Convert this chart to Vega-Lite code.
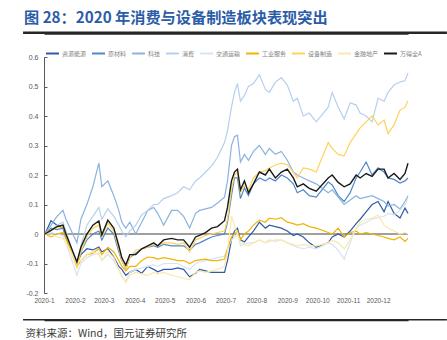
{
"$schema":"https://vega.github.io/schema/vega-lite/v6.json",
"width":364,"height":236,
"autosize":{"type":"none"},
"padding":{"left":44,"top":57,"right":39,"bottom":47},
"background":"#ffffff",
"config":{"view":{"stroke":null},"font":"Noto Sans CJK SC"},
"title":{"text":"图 28：2020 年消费与设备制造板块表现突出","anchor":"start","frame":"group","dx":-20,"offset":5,"fontSize":15.2,"fontWeight":"bold","color":"#2b5ca8","font":"Noto Sans CJK SC"},
"resolve":{"axis":{"x":"independent","y":"independent"}},
"datasets":{
"R":[{"d":"2020-01-02","v":0},{"d":"2020-01-08","v":0.045},{"d":"2020-01-14","v":0.03},{"d":"2020-01-20","v":0.02},{"d":"2020-01-23","v":-0.01},{"d":"2020-02-03","v":-0.1},{"d":"2020-02-07","v":-0.07},{"d":"2020-02-13","v":-0.05},{"d":"2020-02-19","v":-0.054},{"d":"2020-02-25","v":-0.044},{"d":"2020-02-28","v":-0.06},{"d":"2020-03-05","v":-0.05},{"d":"2020-03-11","v":-0.078},{"d":"2020-03-16","v":-0.11},{"d":"2020-03-19","v":-0.12},{"d":"2020-03-23","v":-0.14},{"d":"2020-03-27","v":-0.13},{"d":"2020-04-02","v":-0.12},{"d":"2020-04-08","v":-0.133},{"d":"2020-04-14","v":-0.11},{"d":"2020-04-20","v":-0.12},{"d":"2020-04-24","v":-0.128},{"d":"2020-04-30","v":-0.12},{"d":"2020-05-08","v":-0.12},{"d":"2020-05-14","v":-0.115},{"d":"2020-05-20","v":-0.12},{"d":"2020-05-26","v":-0.145},{"d":"2020-06-01","v":-0.133},{"d":"2020-06-05","v":-0.12},{"d":"2020-06-11","v":-0.125},{"d":"2020-06-17","v":-0.13},{"d":"2020-06-23","v":-0.13},{"d":"2020-06-30","v":-0.13},{"d":"2020-07-03","v":-0.09},{"d":"2020-07-07","v":-0.02},{"d":"2020-07-10","v":0.01},{"d":"2020-07-13","v":0.02},{"d":"2020-07-16","v":-0.02},{"d":"2020-07-20","v":-0.027},{"d":"2020-07-24","v":-0.01},{"d":"2020-07-29","v":0.01},{"d":"2020-08-04","v":0.04},{"d":"2020-08-10","v":0.02},{"d":"2020-08-14","v":0.03},{"d":"2020-08-20","v":0.025},{"d":"2020-08-26","v":0.02},{"d":"2020-09-01","v":0.01},{"d":"2020-09-07","v":-0.005},{"d":"2020-09-11","v":0},{"d":"2020-09-17","v":-0.01},{"d":"2020-09-23","v":-0.03},{"d":"2020-09-30","v":-0.045},{"d":"2020-10-12","v":-0.03},{"d":"2020-10-16","v":-0.01},{"d":"2020-10-22","v":0},{"d":"2020-10-28","v":-0.01},{"d":"2020-11-03","v":0.01},{"d":"2020-11-09","v":0.035},{"d":"2020-11-13","v":0.05},{"d":"2020-11-19","v":0.075},{"d":"2020-11-25","v":0.1},{"d":"2020-12-01","v":0.11},{"d":"2020-12-07","v":0.075},{"d":"2020-12-11","v":0.11},{"d":"2020-12-17","v":0.07},{"d":"2020-12-23","v":0.054},{"d":"2020-12-28","v":0.088},{"d":"2020-12-31","v":0.07}],
"M":[{"d":"2020-01-02","v":0},{"d":"2020-01-08","v":0.02},{"d":"2020-01-14","v":0.015},{"d":"2020-01-20","v":0.02},{"d":"2020-01-23","v":-0.01},{"d":"2020-02-03","v":-0.1},{"d":"2020-02-07","v":-0.06},{"d":"2020-02-13","v":-0.02},{"d":"2020-02-19","v":0},{"d":"2020-02-25","v":0.01},{"d":"2020-02-28","v":-0.02},{"d":"2020-03-05","v":0.02},{"d":"2020-03-11","v":0},{"d":"2020-03-16","v":-0.06},{"d":"2020-03-19","v":-0.09},{"d":"2020-03-23","v":-0.12},{"d":"2020-03-27","v":-0.08},{"d":"2020-04-02","v":-0.065},{"d":"2020-04-08","v":-0.05},{"d":"2020-04-14","v":-0.045},{"d":"2020-04-20","v":-0.04},{"d":"2020-04-24","v":-0.045},{"d":"2020-04-30","v":-0.035},{"d":"2020-05-08","v":-0.04},{"d":"2020-05-14","v":-0.04},{"d":"2020-05-20","v":-0.04},{"d":"2020-05-26","v":-0.055},{"d":"2020-06-01","v":-0.035},{"d":"2020-06-05","v":-0.03},{"d":"2020-06-11","v":-0.02},{"d":"2020-06-17","v":-0.01},{"d":"2020-06-23","v":-0.005},{"d":"2020-06-30","v":0},{"d":"2020-07-03","v":0.04},{"d":"2020-07-07","v":0.13},{"d":"2020-07-10","v":0.19},{"d":"2020-07-13","v":0.19},{"d":"2020-07-16","v":0.12},{"d":"2020-07-20","v":0.156},{"d":"2020-07-24","v":0.13},{"d":"2020-07-29","v":0.17},{"d":"2020-08-04","v":0.19},{"d":"2020-08-10","v":0.18},{"d":"2020-08-14","v":0.19},{"d":"2020-08-20","v":0.18},{"d":"2020-08-26","v":0.2},{"d":"2020-09-01","v":0.19},{"d":"2020-09-07","v":0.17},{"d":"2020-09-11","v":0.14},{"d":"2020-09-17","v":0.15},{"d":"2020-09-23","v":0.13},{"d":"2020-09-30","v":0.125},{"d":"2020-10-12","v":0.176},{"d":"2020-10-16","v":0.166},{"d":"2020-10-22","v":0.13},{"d":"2020-10-28","v":0.11},{"d":"2020-11-03","v":0.14},{"d":"2020-11-09","v":0.19},{"d":"2020-11-13","v":0.21},{"d":"2020-11-19","v":0.244},{"d":"2020-11-25","v":0.2},{"d":"2020-12-01","v":0.224},{"d":"2020-12-07","v":0.21},{"d":"2020-12-11","v":0.19},{"d":"2020-12-17","v":0.185},{"d":"2020-12-23","v":0.173},{"d":"2020-12-28","v":0.18},{"d":"2020-12-31","v":0.19}],
"T":[{"d":"2020-01-02","v":0},{"d":"2020-01-08","v":0.03},{"d":"2020-01-14","v":0.06},{"d":"2020-01-20","v":0.08},{"d":"2020-01-23","v":0.05},{"d":"2020-02-03","v":-0.03},{"d":"2020-02-07","v":0.05},{"d":"2020-02-13","v":0.1},{"d":"2020-02-19","v":0.16},{"d":"2020-02-25","v":0.24},{"d":"2020-02-28","v":0.16},{"d":"2020-03-05","v":0.18},{"d":"2020-03-11","v":0.13},{"d":"2020-03-16","v":0.08},{"d":"2020-03-19","v":0.04},{"d":"2020-03-23","v":0.02},{"d":"2020-03-27","v":0.04},{"d":"2020-04-02","v":0},{"d":"2020-04-08","v":0.04},{"d":"2020-04-14","v":0.08},{"d":"2020-04-20","v":0.09},{"d":"2020-04-24","v":0.07},{"d":"2020-04-30","v":0.03},{"d":"2020-05-08","v":0.08},{"d":"2020-05-14","v":0.08},{"d":"2020-05-20","v":0.06},{"d":"2020-05-26","v":0.02},{"d":"2020-06-01","v":0.07},{"d":"2020-06-05","v":0.08},{"d":"2020-06-11","v":0.085},{"d":"2020-06-17","v":0.09},{"d":"2020-06-23","v":0.105},{"d":"2020-06-30","v":0.125},{"d":"2020-07-03","v":0.18},{"d":"2020-07-07","v":0.3},{"d":"2020-07-10","v":0.33},{"d":"2020-07-13","v":0.335},{"d":"2020-07-16","v":0.244},{"d":"2020-07-20","v":0.27},{"d":"2020-07-24","v":0.25},{"d":"2020-07-29","v":0.28},{"d":"2020-08-04","v":0.3},{"d":"2020-08-10","v":0.27},{"d":"2020-08-14","v":0.29},{"d":"2020-08-20","v":0.27},{"d":"2020-08-26","v":0.28},{"d":"2020-09-01","v":0.25},{"d":"2020-09-07","v":0.21},{"d":"2020-09-11","v":0.2},{"d":"2020-09-17","v":0.19},{"d":"2020-09-23","v":0.18},{"d":"2020-09-30","v":0.17},{"d":"2020-10-12","v":0.14},{"d":"2020-10-16","v":0.15},{"d":"2020-10-22","v":0.125},{"d":"2020-10-28","v":0.1},{"d":"2020-11-03","v":0.115},{"d":"2020-11-09","v":0.13},{"d":"2020-11-13","v":0.12},{"d":"2020-11-19","v":0.125},{"d":"2020-11-25","v":0.13},{"d":"2020-12-01","v":0.12},{"d":"2020-12-07","v":0.11},{"d":"2020-12-11","v":0.095},{"d":"2020-12-17","v":0.1},{"d":"2020-12-23","v":0.085},{"d":"2020-12-28","v":0.11},{"d":"2020-12-31","v":0.13}],
"C":[{"d":"2020-01-02","v":0},{"d":"2020-01-08","v":0.01},{"d":"2020-01-14","v":0.03},{"d":"2020-01-20","v":0.04},{"d":"2020-01-23","v":0.01},{"d":"2020-02-03","v":-0.11},{"d":"2020-02-07","v":-0.04},{"d":"2020-02-13","v":0.03},{"d":"2020-02-19","v":0.06},{"d":"2020-02-25","v":0.09},{"d":"2020-02-28","v":0.05},{"d":"2020-03-05","v":0.085},{"d":"2020-03-11","v":0.06},{"d":"2020-03-16","v":0.03},{"d":"2020-03-19","v":0.01},{"d":"2020-03-23","v":-0.01},{"d":"2020-03-27","v":0.01},{"d":"2020-04-02","v":0.03},{"d":"2020-04-08","v":0.065},{"d":"2020-04-14","v":0.08},{"d":"2020-04-20","v":0.1},{"d":"2020-04-24","v":0.1},{"d":"2020-04-30","v":0.12},{"d":"2020-05-08","v":0.13},{"d":"2020-05-14","v":0.14},{"d":"2020-05-20","v":0.16},{"d":"2020-05-26","v":0.15},{"d":"2020-06-01","v":0.18},{"d":"2020-06-05","v":0.19},{"d":"2020-06-11","v":0.21},{"d":"2020-06-17","v":0.23},{"d":"2020-06-23","v":0.26},{"d":"2020-06-30","v":0.31},{"d":"2020-07-03","v":0.35},{"d":"2020-07-07","v":0.43},{"d":"2020-07-10","v":0.48},{"d":"2020-07-13","v":0.51},{"d":"2020-07-16","v":0.45},{"d":"2020-07-20","v":0.47},{"d":"2020-07-24","v":0.5},{"d":"2020-07-29","v":0.51},{"d":"2020-08-04","v":0.54},{"d":"2020-08-10","v":0.49},{"d":"2020-08-14","v":0.48},{"d":"2020-08-20","v":0.515},{"d":"2020-08-26","v":0.53},{"d":"2020-09-01","v":0.505},{"d":"2020-09-07","v":0.45},{"d":"2020-09-11","v":0.46},{"d":"2020-09-17","v":0.4},{"d":"2020-09-23","v":0.41},{"d":"2020-09-30","v":0.38},{"d":"2020-10-12","v":0.43},{"d":"2020-10-16","v":0.48},{"d":"2020-10-22","v":0.43},{"d":"2020-10-28","v":0.39},{"d":"2020-11-03","v":0.445},{"d":"2020-11-09","v":0.437},{"d":"2020-11-13","v":0.41},{"d":"2020-11-19","v":0.4},{"d":"2020-11-25","v":0.38},{"d":"2020-12-01","v":0.46},{"d":"2020-12-07","v":0.45},{"d":"2020-12-11","v":0.48},{"d":"2020-12-17","v":0.505},{"d":"2020-12-23","v":0.515},{"d":"2020-12-28","v":0.52},{"d":"2020-12-31","v":0.546}],
"X":[{"d":"2020-01-02","v":0},{"d":"2020-01-08","v":0.005},{"d":"2020-01-14","v":0},{"d":"2020-01-20","v":-0.005},{"d":"2020-01-23","v":-0.03},{"d":"2020-02-03","v":-0.14},{"d":"2020-02-07","v":-0.1},{"d":"2020-02-13","v":-0.08},{"d":"2020-02-19","v":-0.07},{"d":"2020-02-25","v":-0.065},{"d":"2020-02-28","v":-0.09},{"d":"2020-03-05","v":-0.07},{"d":"2020-03-11","v":-0.09},{"d":"2020-03-16","v":-0.12},{"d":"2020-03-19","v":-0.145},{"d":"2020-03-23","v":-0.16},{"d":"2020-03-27","v":-0.13},{"d":"2020-04-02","v":-0.12},{"d":"2020-04-08","v":-0.115},{"d":"2020-04-14","v":-0.11},{"d":"2020-04-20","v":-0.105},{"d":"2020-04-24","v":-0.11},{"d":"2020-04-30","v":-0.1},{"d":"2020-05-08","v":-0.1},{"d":"2020-05-14","v":-0.1},{"d":"2020-05-20","v":-0.11},{"d":"2020-05-26","v":-0.12},{"d":"2020-06-01","v":-0.1},{"d":"2020-06-05","v":-0.095},{"d":"2020-06-11","v":-0.09},{"d":"2020-06-17","v":-0.085},{"d":"2020-06-23","v":-0.08},{"d":"2020-06-30","v":-0.075},{"d":"2020-07-03","v":-0.05},{"d":"2020-07-07","v":-0.02},{"d":"2020-07-10","v":-0.01},{"d":"2020-07-13","v":0},{"d":"2020-07-16","v":-0.04},{"d":"2020-07-20","v":-0.035},{"d":"2020-07-24","v":-0.03},{"d":"2020-07-29","v":-0.03},{"d":"2020-08-04","v":-0.02},{"d":"2020-08-10","v":-0.03},{"d":"2020-08-14","v":-0.02},{"d":"2020-08-20","v":-0.025},{"d":"2020-08-26","v":-0.02},{"d":"2020-09-01","v":-0.03},{"d":"2020-09-07","v":-0.04},{"d":"2020-09-11","v":-0.045},{"d":"2020-09-17","v":-0.05},{"d":"2020-09-23","v":-0.045},{"d":"2020-09-30","v":-0.05},{"d":"2020-10-12","v":-0.03},{"d":"2020-10-16","v":-0.035},{"d":"2020-10-22","v":-0.055},{"d":"2020-10-28","v":-0.085},{"d":"2020-11-03","v":-0.03},{"d":"2020-11-09","v":0.02},{"d":"2020-11-13","v":0.03},{"d":"2020-11-19","v":0.04},{"d":"2020-11-25","v":0.05},{"d":"2020-12-01","v":0.055},{"d":"2020-12-07","v":0.06},{"d":"2020-12-11","v":0.07},{"d":"2020-12-17","v":0.065},{"d":"2020-12-23","v":0.08},{"d":"2020-12-28","v":0.1},{"d":"2020-12-31","v":0.12}],
"I":[{"d":"2020-01-02","v":0},{"d":"2020-01-08","v":-0.01},{"d":"2020-01-14","v":0},{"d":"2020-01-20","v":0.005},{"d":"2020-01-23","v":-0.015},{"d":"2020-02-03","v":-0.11},{"d":"2020-02-07","v":-0.09},{"d":"2020-02-13","v":-0.07},{"d":"2020-02-19","v":-0.065},{"d":"2020-02-25","v":-0.05},{"d":"2020-02-28","v":-0.07},{"d":"2020-03-05","v":-0.045},{"d":"2020-03-11","v":-0.06},{"d":"2020-03-16","v":-0.09},{"d":"2020-03-19","v":-0.11},{"d":"2020-03-23","v":-0.125},{"d":"2020-03-27","v":-0.11},{"d":"2020-04-02","v":-0.11},{"d":"2020-04-08","v":-0.09},{"d":"2020-04-14","v":-0.078},{"d":"2020-04-20","v":-0.08},{"d":"2020-04-24","v":-0.085},{"d":"2020-04-30","v":-0.08},{"d":"2020-05-08","v":-0.085},{"d":"2020-05-14","v":-0.09},{"d":"2020-05-20","v":-0.09},{"d":"2020-05-26","v":-0.1},{"d":"2020-06-01","v":-0.09},{"d":"2020-06-05","v":-0.088},{"d":"2020-06-11","v":-0.085},{"d":"2020-06-17","v":-0.09},{"d":"2020-06-23","v":-0.09},{"d":"2020-06-30","v":-0.085},{"d":"2020-07-03","v":-0.05},{"d":"2020-07-07","v":-0.01},{"d":"2020-07-10","v":0},{"d":"2020-07-13","v":0.01},{"d":"2020-07-16","v":-0.02},{"d":"2020-07-20","v":0},{"d":"2020-07-24","v":0.01},{"d":"2020-07-29","v":0.03},{"d":"2020-08-04","v":0.047},{"d":"2020-08-10","v":0.04},{"d":"2020-08-14","v":0.054},{"d":"2020-08-20","v":0.05},{"d":"2020-08-26","v":0.055},{"d":"2020-09-01","v":0.04},{"d":"2020-09-07","v":0.035},{"d":"2020-09-11","v":0.03},{"d":"2020-09-17","v":0.035},{"d":"2020-09-23","v":0.025},{"d":"2020-09-30","v":0.02},{"d":"2020-10-12","v":0.005},{"d":"2020-10-16","v":0},{"d":"2020-10-22","v":0.02},{"d":"2020-10-28","v":-0.01},{"d":"2020-11-03","v":0.005},{"d":"2020-11-09","v":0.01},{"d":"2020-11-13","v":0},{"d":"2020-11-19","v":0.005},{"d":"2020-11-25","v":0},{"d":"2020-12-01","v":-0.005},{"d":"2020-12-07","v":-0.01},{"d":"2020-12-11","v":-0.015},{"d":"2020-12-17","v":-0.02},{"d":"2020-12-23","v":-0.01},{"d":"2020-12-28","v":-0.025},{"d":"2020-12-31","v":-0.015}],
"E":[{"d":"2020-01-02","v":0},{"d":"2020-01-08","v":0.015},{"d":"2020-01-14","v":0.02},{"d":"2020-01-20","v":0.025},{"d":"2020-01-23","v":0},{"d":"2020-02-03","v":-0.115},{"d":"2020-02-07","v":-0.06},{"d":"2020-02-13","v":-0.01},{"d":"2020-02-19","v":0.02},{"d":"2020-02-25","v":0.03},{"d":"2020-02-28","v":-0.01},{"d":"2020-03-05","v":0.037},{"d":"2020-03-11","v":0.01},{"d":"2020-03-16","v":-0.05},{"d":"2020-03-19","v":-0.09},{"d":"2020-03-23","v":-0.12},{"d":"2020-03-27","v":-0.08},{"d":"2020-04-02","v":-0.055},{"d":"2020-04-08","v":-0.05},{"d":"2020-04-14","v":-0.045},{"d":"2020-04-20","v":-0.035},{"d":"2020-04-24","v":-0.04},{"d":"2020-04-30","v":-0.03},{"d":"2020-05-08","v":-0.03},{"d":"2020-05-14","v":-0.035},{"d":"2020-05-20","v":-0.03},{"d":"2020-05-26","v":-0.06},{"d":"2020-06-01","v":-0.02},{"d":"2020-06-05","v":-0.015},{"d":"2020-06-11","v":-0.005},{"d":"2020-06-17","v":0},{"d":"2020-06-23","v":0.005},{"d":"2020-06-30","v":0.01},{"d":"2020-07-03","v":0.05},{"d":"2020-07-07","v":0.15},{"d":"2020-07-10","v":0.2},{"d":"2020-07-13","v":0.21},{"d":"2020-07-16","v":0.14},{"d":"2020-07-20","v":0.165},{"d":"2020-07-24","v":0.15},{"d":"2020-07-29","v":0.19},{"d":"2020-08-04","v":0.21},{"d":"2020-08-10","v":0.215},{"d":"2020-08-14","v":0.224},{"d":"2020-08-20","v":0.234},{"d":"2020-08-26","v":0.24},{"d":"2020-09-01","v":0.235},{"d":"2020-09-07","v":0.21},{"d":"2020-09-11","v":0.19},{"d":"2020-09-17","v":0.224},{"d":"2020-09-23","v":0.22},{"d":"2020-09-30","v":0.21},{"d":"2020-10-12","v":0.31},{"d":"2020-10-16","v":0.29},{"d":"2020-10-22","v":0.27},{"d":"2020-10-28","v":0.265},{"d":"2020-11-03","v":0.31},{"d":"2020-11-09","v":0.34},{"d":"2020-11-13","v":0.36},{"d":"2020-11-19","v":0.38},{"d":"2020-11-25","v":0.4},{"d":"2020-12-01","v":0.37},{"d":"2020-12-07","v":0.386},{"d":"2020-12-11","v":0.34},{"d":"2020-12-17","v":0.37},{"d":"2020-12-23","v":0.42},{"d":"2020-12-28","v":0.43},{"d":"2020-12-31","v":0.452}],
"F":[{"d":"2020-01-02","v":0},{"d":"2020-01-08","v":0},{"d":"2020-01-14","v":-0.01},{"d":"2020-01-20","v":-0.015},{"d":"2020-01-23","v":-0.03},{"d":"2020-02-03","v":-0.1},{"d":"2020-02-07","v":-0.09},{"d":"2020-02-13","v":-0.07},{"d":"2020-02-19","v":-0.06},{"d":"2020-02-25","v":-0.07},{"d":"2020-02-28","v":-0.09},{"d":"2020-03-05","v":-0.06},{"d":"2020-03-11","v":-0.08},{"d":"2020-03-16","v":-0.12},{"d":"2020-03-19","v":-0.14},{"d":"2020-03-23","v":-0.165},{"d":"2020-03-27","v":-0.14},{"d":"2020-04-02","v":-0.13},{"d":"2020-04-08","v":-0.135},{"d":"2020-04-14","v":-0.14},{"d":"2020-04-20","v":-0.13},{"d":"2020-04-24","v":-0.135},{"d":"2020-04-30","v":-0.13},{"d":"2020-05-08","v":-0.14},{"d":"2020-05-14","v":-0.145},{"d":"2020-05-20","v":-0.15},{"d":"2020-05-26","v":-0.155},{"d":"2020-06-01","v":-0.13},{"d":"2020-06-05","v":-0.125},{"d":"2020-06-11","v":-0.13},{"d":"2020-06-17","v":-0.125},{"d":"2020-06-23","v":-0.12},{"d":"2020-06-30","v":-0.11},{"d":"2020-07-03","v":-0.06},{"d":"2020-07-07","v":0.06},{"d":"2020-07-10","v":0.03},{"d":"2020-07-13","v":0},{"d":"2020-07-16","v":-0.03},{"d":"2020-07-20","v":-0.035},{"d":"2020-07-24","v":-0.04},{"d":"2020-07-29","v":-0.03},{"d":"2020-08-04","v":-0.02},{"d":"2020-08-10","v":-0.03},{"d":"2020-08-14","v":-0.025},{"d":"2020-08-20","v":-0.02},{"d":"2020-08-26","v":-0.02},{"d":"2020-09-01","v":-0.03},{"d":"2020-09-07","v":-0.035},{"d":"2020-09-11","v":-0.04},{"d":"2020-09-17","v":-0.035},{"d":"2020-09-23","v":-0.04},{"d":"2020-09-30","v":-0.04},{"d":"2020-10-12","v":-0.03},{"d":"2020-10-16","v":-0.02},{"d":"2020-10-22","v":-0.03},{"d":"2020-10-28","v":-0.05},{"d":"2020-11-03","v":-0.02},{"d":"2020-11-09","v":0.02},{"d":"2020-11-13","v":0.04},{"d":"2020-11-19","v":0.05},{"d":"2020-11-25","v":0.054},{"d":"2020-12-01","v":0.064},{"d":"2020-12-07","v":0.03},{"d":"2020-12-11","v":0.02},{"d":"2020-12-17","v":0.01},{"d":"2020-12-23","v":0},{"d":"2020-12-28","v":0.005},{"d":"2020-12-31","v":0}],
"A":[{"d":"2020-01-02","v":0},{"d":"2020-01-08","v":0.012},{"d":"2020-01-14","v":0.025},{"d":"2020-01-20","v":0.03},{"d":"2020-01-23","v":0},{"d":"2020-02-03","v":-0.095},{"d":"2020-02-07","v":-0.045},{"d":"2020-02-13","v":0},{"d":"2020-02-19","v":0.03},{"d":"2020-02-25","v":0.044},{"d":"2020-02-28","v":-0.003},{"d":"2020-03-05","v":0.047},{"d":"2020-03-11","v":0.02},{"d":"2020-03-16","v":-0.04},{"d":"2020-03-19","v":-0.08},{"d":"2020-03-23","v":-0.105},{"d":"2020-03-27","v":-0.07},{"d":"2020-04-02","v":-0.07},{"d":"2020-04-08","v":-0.05},{"d":"2020-04-14","v":-0.04},{"d":"2020-04-20","v":-0.03},{"d":"2020-04-24","v":-0.04},{"d":"2020-04-30","v":-0.02},{"d":"2020-05-08","v":-0.015},{"d":"2020-05-14","v":-0.02},{"d":"2020-05-20","v":-0.02},{"d":"2020-05-26","v":-0.045},{"d":"2020-06-01","v":-0.01},{"d":"2020-06-05","v":-0.005},{"d":"2020-06-11","v":0.005},{"d":"2020-06-17","v":0.02},{"d":"2020-06-23","v":0.025},{"d":"2020-06-30","v":0.045},{"d":"2020-07-03","v":0.09},{"d":"2020-07-07","v":0.18},{"d":"2020-07-10","v":0.21},{"d":"2020-07-13","v":0.22},{"d":"2020-07-16","v":0.15},{"d":"2020-07-20","v":0.18},{"d":"2020-07-24","v":0.14},{"d":"2020-07-29","v":0.17},{"d":"2020-08-04","v":0.21},{"d":"2020-08-10","v":0.2},{"d":"2020-08-14","v":0.22},{"d":"2020-08-20","v":0.19},{"d":"2020-08-26","v":0.21},{"d":"2020-09-01","v":0.22},{"d":"2020-09-07","v":0.19},{"d":"2020-09-11","v":0.16},{"d":"2020-09-17","v":0.17},{"d":"2020-09-23","v":0.155},{"d":"2020-09-30","v":0.145},{"d":"2020-10-12","v":0.19},{"d":"2020-10-16","v":0.2},{"d":"2020-10-22","v":0.175},{"d":"2020-10-28","v":0.16},{"d":"2020-11-03","v":0.17},{"d":"2020-11-09","v":0.2},{"d":"2020-11-13","v":0.19},{"d":"2020-11-19","v":0.205},{"d":"2020-11-25","v":0.195},{"d":"2020-12-01","v":0.22},{"d":"2020-12-07","v":0.22},{"d":"2020-12-11","v":0.19},{"d":"2020-12-17","v":0.205},{"d":"2020-12-23","v":0.185},{"d":"2020-12-28","v":0.205},{"d":"2020-12-31","v":0.24}]
},
"layer":[
 {"data":{"values":[{}]},"mark":{"type":"rule","stroke":"#404040","strokeWidth":1},
  "encoding":{"y":{"datum":0,"type":"quantitative","scale":{"domain":[-0.2,0.6],"nice":false,"zero":false},"axis":null}}},
 {"encoding":{
   "x":{"field":"d","type":"temporal","scale":{"type":"utc","domain":[1577836800000,1609372800000]},
    "axis":{"orient":"bottom","format":"%Y-%-m","tickCount":{"interval":"month","step":1},"domain":false,"ticks":false,"grid":false,"labelFontSize":6.5,"labelColor":"#595959","labelFont":"Liberation Sans","labelPadding":4,"labelFlush":false,"labelOverlap":false,
     "title":"资料来源：Wind，国元证券研究所","titleX":-19,"titleY":40,"titleAlign":"left","titleAnchor":"start","titleBaseline":"middle","titleFontSize":10.5,"titleFontWeight":"normal","titleColor":"#3a3a3a","titleFont":"Noto Sans CJK SC"}},
   "y":{"field":"v","type":"quantitative",
    "axis":{"orient":"left","values":[-0.2,-0.1,0,0.1,0.2,0.3,0.4,0.5,0.6],"labelExpr":"datum.value < 0 ? '-' + format(-datum.value, '.1~f') : format(datum.value, '.1~f')","labelOverlap":false,"title":null,"grid":false,"domainColor":"#595959","domainWidth":1,"tickColor":"#595959","tickSize":-3,"labelPadding":9,"labelFontSize":7,"labelColor":"#595959","labelFont":"Liberation Sans"}}
  },
  "layer":[
 {"data":{"name":"R"},"mark":{"type":"line","strokeWidth":1.2},"encoding":{"color":{"datum":"资源能源","type":"nominal",
   "scale":{"domain":["资源能源","原材料","科技","消费","交通运输","工业服务","设备制造","金融地产","万得全A"],"range":["#2f5ca8","#4f88cc","#8ab3e0","#b6d0ec","#d5e4f4","#f2b400","#fdd35a","#fde8a9","#1a1a1a"]},
   "legend":{"title":null,"orient":"none","legendX":1,"legendY":-11,"direction":"horizontal","columns":9,"gridAlign":"none","symbolType":"stroke","symbolSize":169,"symbolStrokeWidth":2,"labelFontSize":6,"labelColor":"#7f7f7f","labelFont":"Noto Sans CJK SC","labelOffset":2,"columnPadding":1,"padding":0}}}},
 {"data":{"name":"M"},"mark":{"type":"line","strokeWidth":1.2},"encoding":{"color":{"datum":"原材料","type":"nominal"}}},
 {"data":{"name":"T"},"mark":{"type":"line","strokeWidth":1.2},"encoding":{"color":{"datum":"科技","type":"nominal"}}},
 {"data":{"name":"C"},"mark":{"type":"line","strokeWidth":1.2},"encoding":{"color":{"datum":"消费","type":"nominal"}}},
 {"data":{"name":"X"},"mark":{"type":"line","strokeWidth":1.2},"encoding":{"color":{"datum":"交通运输","type":"nominal"}}},
 {"data":{"name":"I"},"mark":{"type":"line","strokeWidth":1.2},"encoding":{"color":{"datum":"工业服务","type":"nominal"}}},
 {"data":{"name":"E"},"mark":{"type":"line","strokeWidth":1.2},"encoding":{"color":{"datum":"设备制造","type":"nominal"}}},
 {"data":{"name":"F"},"mark":{"type":"line","strokeWidth":1.2},"encoding":{"color":{"datum":"金融地产","type":"nominal"}}},
 {"data":{"name":"A"},"mark":{"type":"line","strokeWidth":1.4},"encoding":{"color":{"datum":"万得全A","type":"nominal"}}}
  ]},
 {"data":{"values":[{}]},"mark":{"type":"rule","stroke":"#262626","strokeWidth":2.5,"clip":false},
  "encoding":{"x":{"datum":1576022400000,"type":"temporal","axis":{"orient":"top","offset":24,"domain":true,"domainColor":"#262626","domainWidth":2.5,"labels":false,"ticks":false,"grid":false,"title":null}},"x2":{"datum":1612742400000},"y":{"datum":0.6824,"type":"quantitative","axis":null}}},
 {"data":{"values":[{}]},"mark":{"type":"rule","stroke":"#262626","strokeWidth":1.5,"clip":false},
  "encoding":{"x":{"datum":1576022400000,"type":"temporal","axis":{"orient":"bottom","offset":27,"domain":true,"domainColor":"#262626","domainWidth":1.5,"labels":false,"ticks":false,"grid":false,"title":null}},"x2":{"datum":1612742400000},"y":{"datum":-0.2905,"type":"quantitative","axis":null}}}
]
}
